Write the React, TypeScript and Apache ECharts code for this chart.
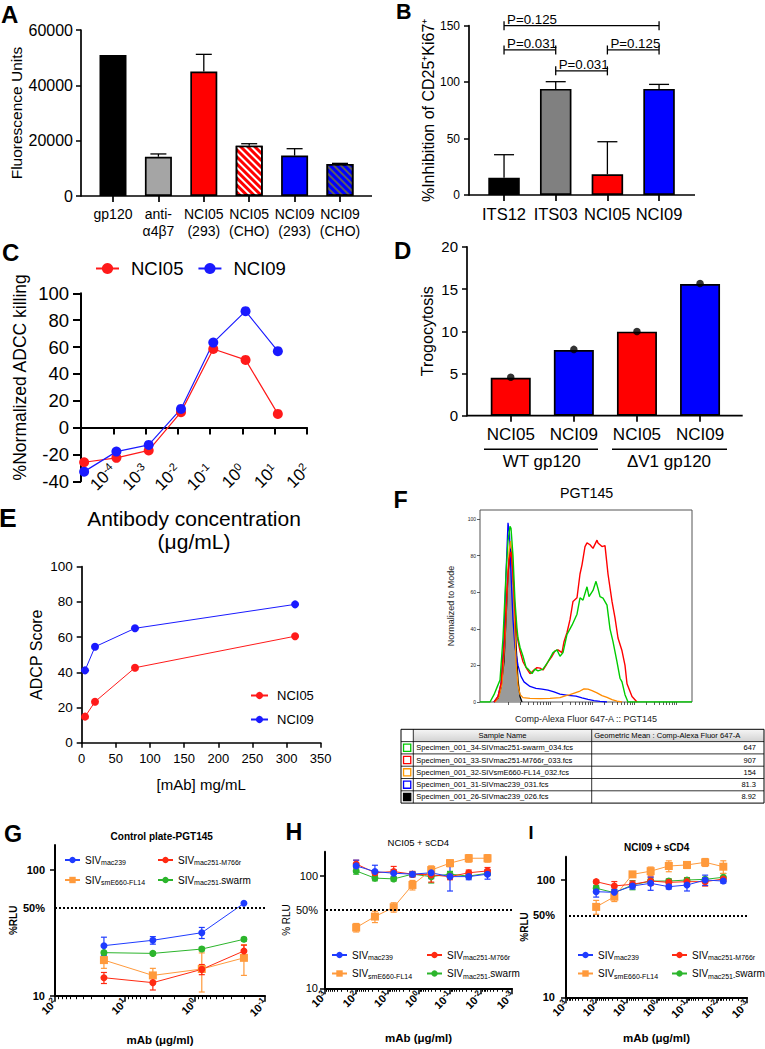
import React, { useEffect, useRef } from "react";
import * as echarts from "echarts";

const FONT = "'Liberation Sans', Arial, Helvetica, sans-serif";
const K = "#000000";

// ---------- Panel A ----------
const catsA = ["gp120", "anti-\nα4β7", "NCI05\n(293)", "NCI05\n(CHO)", "NCI09\n(293)", "NCI09\n(CHO)"];
const valsA = [51000, 14200, 45000, 18200, 14600, 11600];
const errTopA: (number | null)[] = [null, 15200, 51200, 18900, 17100, 11800];
const colorsA = ["#000000", "#a5a5a5", "#ff0000", "#ff0000", "#0000ff", "#0000ff"];
const hatchA: (string | null)[] = [null, null, null, "#ffffff", null, "#5e5e5e"];

// ---------- Panel B ----------
const catsB = ["ITS12", "ITS03", "NCI05", "NCI09"];
const valsB = [15.3, 94, 18.3, 94];
const errTopB = [35.7, 100.4, 47.2, 98];
const colorsB = ["#000000", "#808080", "#ff0000", "#0000ff"];
const pLabelsB = ["P=0.125", "P=0.031", "P=0.125", "P=0.031"];
const pFromB = [0, 0, 2, 1];
const pToB = [3, 1, 3, 2];
const pLevelB = [150, 128.5, 128.5, 110];

// ---------- Panel C ----------
const concC = [0.0000125, 0.000125, 0.00125, 0.0125, 0.125, 1.25, 12.5];
const nci05C = [-25.8, -22.5, -17, 11.5, 58.5, 50.4, 10.2];
const nci09C = [-32.8, -17.9, -12.9, 13.9, 63.3, 86.7, 56.9];
const decadesC = [0.0001, 0.001, 0.01, 0.1, 1, 10, 100];

// ---------- Panel D ----------
const catsD = ["NCI05", "NCI09", "NCI05", "NCI09"];
const valsD = [4.5, 7.78, 9.95, 15.6];
const dotsD = [4.55, 7.85, 9.98, 15.65];
const colorsD = ["#ff0000", "#0000ff", "#ff0000", "#0000ff"];
const groupsD = ["WT gp120", "ΔV1 gp120"];

// ---------- Panel E ----------
const concE = [4.88, 19.5, 78.1, 312.5];
const nci05E = [14.8, 23.3, 42.6, 60.5];
const nci09E = [41.1, 54.5, 65, 78.6];

// ---------- Panel F (histogram traces: [channel, % of mode]) ----------
const fBlack = [[14, 0], [18, 2], [21, 8], [24, 22], [26, 45], [28, 70], [30, 82], [31, 84], [32, 80], [34, 60], [36, 32], [38, 12], [40, 3], [42, 0]];
const fBlue = [[14, 0], [18, 3], [21, 10], [24, 35], [26, 70], [28, 98], [29.5, 92], [31, 70], [33, 45], [35, 30], [38, 20], [41, 14], [44, 11], [50, 8.5], [56, 7.5], [62, 7], [68, 6.5], [74, 5.5], [80, 4.3], [88, 3.6], [96, 3.2], [102, 2.2], [108, 1.4], [114, 0.8], [120, 0.3], [127, 0]];
const fOrange = [[15, 0], [19, 3], [22, 10], [25, 35], [27, 60], [29, 82], [30.5, 88], [32, 82], [34, 55], [36, 22], [38, 9], [40, 4.2], [43, 2.4], [50, 2], [60, 1.8], [70, 2], [80, 2.4], [86, 3.5], [90, 4], [95, 5], [100, 6], [104, 7.2], [108, 7], [112, 6.2], [117, 5], [122, 3.5], [127, 2.5], [132, 1.3], [137, 0.5], [142, 0]];
const fRed = [[14, 0], [18, 3], [21, 10], [24, 30], [27, 62], [29, 78], [31, 82], [33, 70], [35, 50], [37, 36], [40, 28], [43, 22], [47, 18], [50, 15.5], [53, 17], [57, 18.8], [60, 18.5], [63, 17.5], [66, 20], [68, 22], [72, 25], [75, 28], [78, 28.5], [82, 27], [84, 33], [87, 38], [90, 45], [93, 55], [97, 57], [100, 70], [102, 75], [105, 85], [107, 87], [110, 86], [113, 84], [117, 88.5], [118, 87], [122, 85], [125, 85.5], [128, 70], [132, 55], [135, 46], [138, 35], [142, 28], [145, 20], [147, 10], [152, 3], [157, 0]];
const fGreen = [[0, 0], [10, 0], [14, 4], [17, 8], [20, 12], [23, 35], [26, 70], [28, 88], [30, 96], [31, 95], [33, 80], [35, 55], [37, 40], [38, 35], [40, 30], [43, 25], [46, 19], [48, 18], [52, 15.5], [55, 18], [58, 17], [63, 18], [68, 22], [73, 27], [77, 28.5], [80, 25], [83, 27], [87, 37], [92, 42], [97, 48], [100, 57], [103, 55.7], [107, 63], [109, 57.6], [113, 61], [116, 66], [118, 62], [120, 57.6], [123, 56.8], [127, 53], [130, 40], [133, 33], [137, 22], [140, 13], [142, 11], [145, 4], [148, 0], [212, 0]];
const sampleNames = [
  "Specimen_001_34-SIVmac251-swarm_034.fcs",
  "Specimen_001_33-SIVmac251-M766r_033.fcs",
  "Specimen_001_32-SIVsmE660-FL14_032.fcs",
  "Specimen_001_31-SIVmac239_031.fcs",
  "Specimen_001_26-SIVmac239_026.fcs",
];
const geoMeans = ["647", "907", "154", "81.3", "8.92"];
const sampleColors = ["#00c800", "#ff0000", "#ff9900", "#0000ff", "#000000"];
const sampleFilled = [false, false, false, false, true];

// ---------- Panels G, H, I ----------
const virusNames = ["SIVmac239", "SIVmac251-M766r", "SIVsmE660-FL14", "SIVmac251-swarm"];
const virusLabels = ["SIV{s|mac239}", "SIV{s|mac251-M766r}", "SIV{s|smE660-FL14}", "SIV{s|mac251-}swarm"];
const virusColors = ["#1f3cff", "#ff2a12", "#ff9a3c", "#2cb52c"];
const virusSymbols = ["circle", "circle", "rect", "circle"];

const concG = [20, 4, 0.8, 0.2];
const gMac239 = [25, 27.6, 31.7, 54.3];
const gMac239Sd = [4.2, 1.9, 3.2, 0];
const gM766r = [13.9, 12.7, 16.2, 22.7];
const gM766rSd = [1.4, 1.6, 1.5, 2.5];
const gFL14 = [19.2, 14.5, 16.3, 20];
const gFL14Sd = [2.7, 2, 5.6, 5.5];
const gSwarm = [22, 21.7, 23.5, 28.1];
const gSwarmSd = [0.5, 0.5, 0.8, 1];

const concHI = [100, 25, 6.25, 1.5625, 0.390625, 0.09765625, 0.0244140625, 0.006103515625];
const hMac239 = [122, 108.6, 105, 103, 106, 98, 98, 103];
const hMac239Sd = [15, 15, 8, 5, 12, 25, 6, 10];
const hM766r = [127, 106, 108.6, 103, 101.5, 98, 106, 110];
const hM766rSd = [10, 5, 12, 6, 14, 6, 6, 8];
const hFL14 = [34.6, 43.3, 52.4, 82.6, 112, 129, 142.6, 142.6];
const hFL14Sd = [3, 5, 5, 8, 10, 9, 11, 11];
const hSwarm = [110, 95, 93.5, 103, 98, 103, 99, 105];
const hSwarmSd = [7, 5, 4, 4, 12, 6, 4, 5];

const iMac239 = [79.5, 78.5, 89, 93.7, 87.7, 90.6, 100, 98];
const iMac239Sd = [8, 5, 5, 12, 4, 10, 10, 4];
const iM766r = [96.8, 89, 91.9, 98, 95.5, 96.8, 96.8, 102];
const iM766rSd = [3, 8, 6, 8, 6, 8, 8, 5];
const iFL14 = [59, 72, 111.7, 119, 131.6, 134.4, 141.5, 129.8];
const iFL14Sd = [8, 6.5, 5, 10, 14, 9, 11, 16];
const iSwarm = [85, 78, 90.6, 98, 98, 100, 101.3, 105.5];
const iSwarmSd = [5, 5, 8, 4, 4, 4, 4, 8];

const decadesG = [100, 10, 1, 0.1];
const decadesHI = [1000, 100, 10, 1, 0.1, 0.01, 0.001];
const rluLabels = [10, 50, 100];
const rluTicks = [10, 100];

// ---------- helpers ----------
function minorLog(loExp: number, hiExp: number) {
  const out: number[] = [];
  for (let e = loExp; e < hiExp; e++) for (let m = 2; m <= 9; m++) out.push(m * Math.pow(10, e));
  return out;
}
function supLabel(v: number) {
  const e = Math.round(Math.log10(v));
  return "10{sup|" + (e < 0 ? "-" + Math.abs(e) : String(e)) + "}";
}
const lineS = (w = 1.7) => ({ color: K, width: w });

function barErr(capHalf: number) {
  return (params: any, api: any) => {
    const i = api.value(0);
    const base = api.coord([i, api.value(1)]);
    const top = api.coord([i, api.value(2)]);
    const st = { stroke: K, lineWidth: 1.3 };
    return {
      type: "group",
      children: [
        { type: "line", shape: { x1: base[0], y1: base[1], x2: top[0], y2: top[1] }, style: st },
        { type: "line", shape: { x1: top[0] - capHalf, y1: top[1], x2: top[0] + capHalf, y2: top[1] }, style: st },
      ],
    };
  };
}
function rangeErr(color: string) {
  return (params: any, api: any) => {
    const x = api.value(0);
    const lo = api.value(2);
    const hi = api.value(3);
    if (!(hi > lo)) return null;
    const a = api.coord([x, hi]);
    const b = api.coord([x, lo]);
    const st = { stroke: color, lineWidth: 1.2 };
    return {
      type: "group",
      children: [
        { type: "line", shape: { x1: a[0], y1: a[1], x2: b[0], y2: b[1] }, style: st },
        { type: "line", shape: { x1: a[0] - 3, y1: a[1], x2: a[0] + 3, y2: a[1] }, style: st },
        { type: "line", shape: { x1: b[0] - 3, y1: b[1], x2: b[0] + 3, y2: b[1] }, style: st },
      ],
    };
  };
}
function rluSeries(xIdx: number, yIdx: number, conc: number[], vals: number[][], sds: number[][]) {
  const out: any[] = [];
  [3, 2, 1, 0].forEach((k, n) => {
    out.push({
      type: "custom", xAxisIndex: xIdx, yAxisIndex: yIdx, z: 2, silent: true,
      renderItem: rangeErr(virusColors[k]), encode: { x: 0, y: 1 },
      data: conc.map((c, i) => [c, vals[k][i], vals[k][i] - sds[k][i], vals[k][i] + sds[k][i]]),
    });
    const s: any = {
      type: "line", name: virusNames[k], xAxisIndex: xIdx, yAxisIndex: yIdx, z: 3,
      data: conc.map((c, i) => [c, vals[k][i]]),
      symbol: virusSymbols[k], symbolSize: k === 2 ? 8 : 7,
      lineStyle: { color: virusColors[k], width: 1 }, itemStyle: { color: virusColors[k] },
    };
    if (n === 0) {
      s.markLine = {
        silent: true, symbol: ["none", "none"], label: { show: false },
        lineStyle: { type: [2, 2], color: K, width: 2 }, data: [{ yAxis: 50 }],
      };
    }
    out.push(s);
  });
  return out;
}

function rluX(grid: number, min: number, max: number, decades: number[], loExp: number, hiExp: number, nameGap: number) {
  return [
    {
      gridIndex: grid, type: "log", inverse: true, min, max, position: "bottom",
      axisLine: { show: true, onZero: false, lineStyle: lineS(2) },
      axisTick: { show: true, customValues: decades, length: 6, lineStyle: lineS(1.5) },
      axisLabel: {
        customValues: decades, rotate: 45, fontSize: 11, fontWeight: "bold", color: K, margin: 5,
        formatter: supLabel, rich: { sup: { fontSize: 8, fontWeight: "bold", color: K, padding: [0, 0, 5, 0] } },
      },
      splitLine: { show: false }, minorTick: { show: false },
      name: "mAb (μg/ml)", nameLocation: "middle", nameGap,
      nameTextStyle: { fontSize: 11.5, fontWeight: "bold", color: K },
    },
    {
      gridIndex: grid, type: "log", inverse: true, min, max, position: "bottom",
      axisLine: { show: false, onZero: false },
      axisTick: { show: true, customValues: minorLog(loExp, hiExp), length: 3.5, lineStyle: lineS(1) },
      axisLabel: { show: false }, splitLine: { show: false },
    },
  ];
}
function rluY(grid: number, max: number, nameGap: number, margin: number, bold: boolean) {
  return {
    gridIndex: grid, type: "log", min: 10, max, position: "left",
    axisLine: { show: true, onZero: false, lineStyle: lineS(2) },
    axisTick: { show: true, customValues: rluTicks, length: 5, lineStyle: lineS(1.5) },
    axisLabel: {
      customValues: rluLabels, fontSize: 11, fontWeight: bold ? "bold" : "normal", color: K, margin,
      formatter: (v: number) => (Math.abs(v - 50) < 1 ? "50%" : String(Math.round(v))),
    },
    splitLine: { show: false },
    name: bold ? "%RLU" : "% RLU", nameLocation: "middle", nameGap,
    nameTextStyle: { fontSize: 10, fontWeight: bold ? "bold" : "normal", color: K },
  };
}
function rluLegends(leftA: number, leftB: number, top: number, gap: number) {
  const mk = (left: number, names: string[]) => ({
    data: names, left, top, orient: "vertical", itemWidth: 15, itemHeight: 8, itemGap: gap, padding: 0,
    formatter: (n: string) => virusLabels[virusNames.indexOf(n)],
    textStyle: { fontSize: 10, color: K, rich: { s: { fontSize: 7, color: K, padding: [5, 0, 0, 0] } } },
  });
  return [mk(leftA, [virusNames[0], virusNames[2]]), mk(leftB, [virusNames[1], virusNames[3]])];
}

function txt(text: string, x: number, y: number, size: number, opts: any = {}) {
  return {
    type: "text", x, y, silent: true,
    style: {
      text, fill: K, fontFamily: FONT, fontSize: size, fontWeight: opts.bold ? "bold" : "normal",
      align: opts.align || "left", verticalAlign: opts.va || "top",
    },
  };
}
function ln(x1: number, y1: number, x2: number, y2: number, w = 1.7, color = K) {
  return { type: "line", silent: true, shape: { x1, y1, x2, y2 }, style: { stroke: color, lineWidth: w } };
}

function buildOption() {
  const grids = [
    { left: 90.3, top: 30, width: 272.4, height: 166 },
    { left: 478.2, top: 25.7, width: 206.7, height: 169.3 },
    { left: 81, top: 293.3, width: 226, height: 188 },
    { left: 479.2, top: 246.8, width: 252.4, height: 168.9 },
    { left: 81.7, top: 566.7, width: 239, height: 176 },
    { left: 480, top: 510, width: 212, height: 192, show: true, borderColor: "#555", borderWidth: 1 },
    { left: 55, top: 845, width: 210, height: 150.7 },
    { left: 325, top: 851.7, width: 187, height: 136.6 },
    { left: 566, top: 856.7, width: 181, height: 140.6 },
  ].map((g) => ({ containLabel: false, outerBoundsMode: "none", ...g }));

  const fMinor: number[] = [];
  for (let d = 0; d < 5; d++) {
    for (let m = 1; m <= 9; m++) {
      const v = 28 + d * 42 + Math.log10(m) * 42;
      if (v > 8 && v < 205) fMinor.push(v);
    }
  }

  const xAxes: any[] = [
    // 0 A
    {
      gridIndex: 0, type: "category", data: catsA, position: "bottom",
      axisLine: { show: false }, axisTick: { show: true, alignWithLabel: true, length: 6, lineStyle: lineS() },
      axisLabel: { interval: 0, fontSize: 14, color: K, margin: 9, lineHeight: 17 },
    },
    // 1 B
    {
      gridIndex: 1, type: "category", data: catsB, position: "bottom",
      axisLine: { show: false }, axisTick: { show: true, alignWithLabel: true, length: 6, lineStyle: lineS() },
      axisLabel: { interval: 0, fontSize: 16.5, color: K, margin: 10 },
    },
    // 2 C (line on zero)
    {
      gridIndex: 2, type: "log", min: 0.00001, max: 100, position: "bottom",
      axisLine: { show: true, onZero: true, lineStyle: lineS(2) },
      axisTick: { show: true, customValues: decadesC, length: 7, lineStyle: lineS(2) },
      axisLabel: { show: false }, splitLine: { show: false },
    },
    // 3 C (labels at bottom)
    {
      gridIndex: 2, type: "log", min: 0.00001, max: 100, position: "bottom",
      axisLine: { show: false, onZero: false }, axisTick: { show: false },
      axisLabel: {
        customValues: decadesC, rotate: 45, fontSize: 17, color: K, margin: -14,
        formatter: supLabel, rich: { sup: { fontSize: 11, color: K, padding: [0, 0, 8, 0] } },
      },
      splitLine: { show: false },
      name: "Antibody concentration\n(μg/mL)", nameLocation: "middle", nameGap: 26,
      nameTextStyle: { fontSize: 21, color: K, lineHeight: 23 },
    },
    // 4 D
    {
      gridIndex: 3, type: "category", data: catsD, position: "bottom",
      axisLine: { show: false }, axisTick: { show: true, alignWithLabel: true, length: 6, lineStyle: lineS() },
      axisLabel: { interval: 0, fontSize: 17, color: K, margin: 10 },
    },
    // 5 E
    {
      gridIndex: 4, type: "value", min: 0, max: 350, interval: 50, position: "bottom",
      axisLine: { show: true, onZero: false, lineStyle: lineS() },
      axisTick: { show: true, length: 5, lineStyle: lineS(1.5) },
      axisLabel: { fontSize: 13, color: K, margin: 9 }, splitLine: { show: false },
      name: "[mAb] mg/mL", nameLocation: "middle", nameGap: 34, nameTextStyle: { fontSize: 15, color: K },
    },
    // 6 F
    {
      gridIndex: 5, type: "value", min: 0, max: 212, position: "bottom",
      axisLine: { show: false, onZero: false },
      axisTick: { show: true, customValues: fMinor, length: 3, lineStyle: { color: "#333", width: 0.8 } },
      axisLabel: { show: false }, splitLine: { show: false },
      name: "Comp-Alexa Fluor 647-A :: PGT145", nameLocation: "middle", nameGap: 12,
      nameTextStyle: { fontSize: 9, color: "#222" },
    },
    // 7,8 G ; 9,10 H ; 11,12 I
    ...rluX(6, 0.1, 100, decadesG, -1, 2, 38),
    ...rluX(7, 0.001, 1000, decadesHI, -3, 3, 44),
    ...rluX(8, 0.001, 1000, decadesHI, -3, 3, 35),
  ];

  const valueY = (grid: number, min: number, max: number, interval: number, extra: any) => ({
    gridIndex: grid, type: "value", min, max, interval, position: "left",
    axisLine: { show: true, onZero: false, lineStyle: lineS() },
    axisTick: { show: true, length: 5, lineStyle: lineS(1.5) },
    splitLine: { show: false }, nameLocation: "middle",
    ...extra,
  });

  const yAxes: any[] = [
    valueY(0, 0, 60000, 20000, {
      offset: 9.3, axisLabel: { fontSize: 16, color: K, margin: 8, formatter: (v: number) => String(v) },
      name: "Fluorescence Units", nameGap: 55, nameTextStyle: { fontSize: 15.5, color: K },
    }),
    valueY(1, 0, 150, 50, {
      offset: 9.2, axisLabel: { fontSize: 12, color: K, margin: 9 },
      name: "%Inhibition of CD25⁺Ki67⁺", nameGap: 33, nameTextStyle: { fontSize: 16, color: K },
    }),
    valueY(2, -40, 100, 20, {
      axisTick: { show: true, length: 8, lineStyle: lineS(2) },
      axisLine: { show: true, onZero: false, lineStyle: lineS(2) },
      axisLabel: { fontSize: 18.5, color: K, margin: 12 },
      name: "%Normalized ADCC killing", nameGap: 52,
      nameTextStyle: { fontSize: 17.5, color: K, padding: [0, 0, 0, 20] },
    }),
    valueY(3, 0, 20, 5, {
      offset: 12.2, axisLabel: { fontSize: 15, color: K, margin: 9 },
      name: "Trogocytosis", nameGap: 32, nameTextStyle: { fontSize: 16, color: K },
    }),
    valueY(4, 0, 100, 20, {
      axisLabel: { fontSize: 13.5, color: K, margin: 9 },
      name: "ADCP Score", nameGap: 37, nameTextStyle: { fontSize: 16, color: K },
    }),
    {
      gridIndex: 5, type: "value", min: 0, max: 105, position: "left",
      axisLine: { show: false, onZero: false },
      axisTick: { show: true, customValues: [0, 20, 40, 60, 80, 100], length: 3, lineStyle: { color: "#333", width: 0.8 } },
      axisLabel: { customValues: [0, 20, 40, 60, 80, 100], fontSize: 5, color: "#222", margin: 4 },
      splitLine: { show: false },
      name: "Normalized to Mode", nameLocation: "middle", nameGap: 25, nameTextStyle: { fontSize: 9, color: "#222" },
    },
    rluY(6, 158, 37, 10, true),
    rluY(7, 163, 33.5, 7, false),
    rluY(8, 158, 33, 11, true),
  ];

  const legends: any[] = [
    {
      data: ["NCI05", "NCI09"], left: 95, top: 259, orient: "horizontal", itemWidth: 23, itemHeight: 14,
      itemGap: 14, padding: 0, textStyle: { fontSize: 18.5, color: K, padding: [0, 0, 0, 7] },
    },
    {
      data: ["NCI05", "NCI09"], left: 250, top: 689, orient: "vertical", itemWidth: 17, itemHeight: 9,
      itemGap: 11, padding: 0, textStyle: { fontSize: 13, color: K, padding: [0, 0, 0, 4] },
    },
    ...rluLegends(64, 157, 855, 9),
    ...rluLegends(331, 426, 950, 7.5),
    ...rluLegends(577, 671, 950, 7.5),
  ];

  const series: any[] = [
    // A
    {
      type: "bar", xAxisIndex: 0, yAxisIndex: 0, barWidth: 27, z: 2,
      data: valsA.map((v, i) => ({
        value: v,
        itemStyle: {
          color: colorsA[i], borderColor: K, borderWidth: 1.7,
          decal: hatchA[i]
            ? { symbol: "rect", symbolSize: 1, color: hatchA[i], dashArrayX: [1, 0], dashArrayY: [2, 3], rotation: Math.PI / 4 }
            : undefined,
        },
      })),
    },
    {
      type: "custom", xAxisIndex: 0, yAxisIndex: 0, z: 3, silent: true, renderItem: barErr(8), encode: { x: 0, y: 1 },
      data: errTopA.map((t, i) => (t == null ? null : [i, valsA[i], t])).filter((d) => d !== null),
    },
    // B
    {
      type: "bar", xAxisIndex: 1, yAxisIndex: 1, barWidth: 31.5, z: 2,
      data: valsB.map((v, i) => ({ value: v, itemStyle: { color: colorsB[i], borderColor: K, borderWidth: 1.7 } })),
    },
    {
      type: "custom", xAxisIndex: 1, yAxisIndex: 1, z: 3, silent: true, renderItem: barErr(10), encode: { x: 0, y: 1 },
      data: errTopB.map((t, i) => [i, valsB[i], t]),
    },
    {
      type: "custom", xAxisIndex: 1, yAxisIndex: 1, z: 3, silent: true, encode: { x: 0, y: 2 },
      data: pLabelsB.map((_, i) => [pFromB[i], pToB[i], pLevelB[i]]),
      renderItem: (params: any, api: any) => {
        const i = params.dataIndex;
        const a = api.coord([api.value(0), api.value(2)]);
        const b = api.coord([api.value(1), api.value(2)]);
        const st = { stroke: K, lineWidth: 1.3 };
        return {
          type: "group",
          children: [
            { type: "line", shape: { x1: a[0], y1: a[1], x2: b[0], y2: b[1] }, style: st },
            { type: "line", shape: { x1: a[0], y1: a[1] - 4.5, x2: a[0], y2: a[1] + 4.5 }, style: st },
            { type: "line", shape: { x1: b[0], y1: b[1] - 4.5, x2: b[0], y2: b[1] + 4.5 }, style: st },
            {
              type: "text", x: a[0] + 3, y: a[1] + 0.5,
              style: { text: pLabelsB[i], fill: K, fontFamily: FONT, fontSize: 13.3, align: "left", verticalAlign: "bottom" },
            },
          ],
        };
      },
    },
    // C
    {
      type: "line", name: "NCI05", xAxisIndex: 2, yAxisIndex: 2, z: 3,
      data: concC.map((c, i) => [c, nci05C[i]]), symbol: "circle", symbolSize: 10,
      lineStyle: { color: "#ff1a1a", width: 1.2 }, itemStyle: { color: "#ff1a1a" },
    },
    {
      type: "line", name: "NCI09", xAxisIndex: 2, yAxisIndex: 2, z: 3,
      data: concC.map((c, i) => [c, nci09C[i]]), symbol: "circle", symbolSize: 10,
      lineStyle: { color: "#1a1aff", width: 1.2 }, itemStyle: { color: "#1a1aff" },
    },
    // D
    {
      type: "bar", xAxisIndex: 4, yAxisIndex: 3, barWidth: 40, z: 2,
      data: valsD.map((v, i) => ({ value: v, itemStyle: { color: colorsD[i], borderColor: K, borderWidth: 1.7 } })),
    },
    {
      type: "scatter", xAxisIndex: 4, yAxisIndex: 3, z: 4, symbol: "circle", symbolSize: 7.5,
      itemStyle: { color: K }, data: dotsD,
    },
    // E
    {
      type: "line", name: "NCI05", xAxisIndex: 5, yAxisIndex: 4, z: 3,
      data: concE.map((c, i) => [c, nci05E[i]]), symbol: "circle", symbolSize: 8,
      lineStyle: { color: "#ff1a1a", width: 1 }, itemStyle: { color: "#ff1a1a" },
    },
    {
      type: "line", name: "NCI09", xAxisIndex: 5, yAxisIndex: 4, z: 3,
      data: concE.map((c, i) => [c, nci09E[i]]), symbol: "circle", symbolSize: 8,
      lineStyle: { color: "#1a1aff", width: 1 }, itemStyle: { color: "#1a1aff" },
    },
    // F
    {
      type: "line", xAxisIndex: 6, yAxisIndex: 5, data: fBlack, symbol: "none", z: 2,
      lineStyle: { color: K, width: 1.3 }, areaStyle: { color: "#9a9a9a", opacity: 1 },
    },
    { type: "line", xAxisIndex: 6, yAxisIndex: 5, data: fBlue, symbol: "none", z: 3, lineStyle: { color: "#0000ff", width: 1.3 } },
    { type: "line", xAxisIndex: 6, yAxisIndex: 5, data: fOrange, symbol: "none", z: 3, lineStyle: { color: "#ff8c00", width: 1.3 } },
    { type: "line", xAxisIndex: 6, yAxisIndex: 5, data: fRed, symbol: "none", z: 3, lineStyle: { color: "#ff0000", width: 1.4 } },
    { type: "line", xAxisIndex: 6, yAxisIndex: 5, data: fGreen, symbol: "none", z: 3, lineStyle: { color: "#00cc00", width: 1.4 } },
    // G, H, I
    ...rluSeries(7, 6, concG, [gMac239, gM766r, gFL14, gSwarm], [gMac239Sd, gM766rSd, gFL14Sd, gSwarmSd]),
    ...rluSeries(9, 7, concHI, [hMac239, hM766r, hFL14, hSwarm], [hMac239Sd, hM766rSd, hFL14Sd, hSwarmSd]),
    ...rluSeries(11, 8, concHI, [iMac239, iM766r, iFL14, iSwarm], [iMac239Sd, iM766rSd, iFL14Sd, iSwarmSd]),
  ];

  // ---- graphic decorations ----
  const g: any[] = [];
  const letters: [string, number, number, number][] = [
    ["A", 1, 2, 24], ["B", 396, 0.5, 21.5], ["C", 2, 240, 24], ["D", 394, 238.5, 24], ["E", -1, 504.5, 26.5],
    ["F", 393.5, 488.5, 23.3], ["G", 4, 822, 23.3], ["H", 285.5, 820.3, 23.3], ["I", 528.5, 824, 18],
  ];
  letters.forEach(([t, x, y, s]) => g.push(txt(t, x, y, s, { bold: true })));
  // axis baselines of the bar panels
  g.push(ln(81, 196, 372, 196));
  g.push(ln(469, 195, 695, 195));
  g.push(ln(467, 415.7, 742.7, 415.7));
  // D group labels
  g.push(ln(484, 449.3, 598, 449.3, 1.6));
  g.push(ln(612, 449.3, 727, 449.3, 1.6));
  g.push(txt(groupsD[0], 541.7, 461.7, 17, { align: "center", va: "middle" }));
  g.push(txt(groupsD[1], 669, 461.7, 17, { align: "center", va: "middle" }));
  // titles
  g.push(txt("PGT145", 586.7, 493, 14.3, { align: "center", va: "middle" }));
  g.push(txt("Control plate-PGT145", 161.7, 836, 10, { align: "center", va: "middle", bold: true }));
  g.push(txt("NCI05 + sCD4", 418.3, 842.7, 9.5, { align: "center", va: "middle" }));
  g.push(txt("NCI09 + sCD4", 656.7, 847.3, 10, { align: "center", va: "middle", bold: true }));
  // F table
  const tL = 401, tR = 764, tT = 729.3, rH = 12.3, c1 = 413.3, c2 = 591.7;
  const tB = tT + rH * (sampleNames.length + 1);
  g.push({
    type: "rect", silent: true, shape: { x: c1, y: tT, width: tR - c1, height: rH },
    style: {
      fill: { type: "linear", x: 0, y: 0, x2: 0, y2: 1, colorStops: [{ offset: 0, color: "#f6f6f6" }, { offset: 1, color: "#d2d2d2" }] },
    },
  });
  g.push({ type: "rect", silent: true, shape: { x: tL, y: tT, width: tR - tL, height: tB - tT }, style: { fill: "none", stroke: K, lineWidth: 1 } });
  for (let r = 1; r <= sampleNames.length; r++) g.push(ln(tL, tT + r * rH, tR, tT + r * rH, 0.8));
  g.push(ln(c1, tT, c1, tB, 0.8));
  g.push(ln(c2, tT, c2, tB, 0.8));
  g.push(txt("Sample Name", (c1 + c2) / 2, tT + rH / 2, 7.6, { align: "center", va: "middle" }));
  g.push(txt("Geometric Mean : Comp-Alexa Fluor 647-A", c2 + 2.5, tT + rH / 2, 7.6, { va: "middle" }));
  sampleNames.forEach((nm, i) => {
    const cy = tT + rH * (i + 1.5);
    g.push({
      type: "rect", silent: true, shape: { x: (tL + c1) / 2 - 3.6, y: cy - 3.6, width: 7.2, height: 7.2 },
      style: { fill: sampleFilled[i] ? sampleColors[i] : "#ffffff", stroke: sampleColors[i], lineWidth: 1.3 },
    });
    g.push(txt(nm, c1 + 3, cy, 7.5, { va: "middle" }));
    g.push(txt(geoMeans[i], 756, cy, 7.5, { va: "middle", align: "right" }));
  });

  return {
    animation: false,
    backgroundColor: "#ffffff",
    textStyle: { fontFamily: FONT, color: K },
    grid: grids,
    xAxis: xAxes,
    yAxis: yAxes,
    legend: legends,
    series,
    graphic: g,
  };
}

export default function App() {
  const ref = useRef<HTMLDivElement>(null);
  useEffect(() => {
    if (!ref.current) return;
    const chart = echarts.init(ref.current, null, { renderer: "svg" });
    chart.setOption(buildOption());
    return () => chart.dispose();
  }, []);
  return (
    <div
      ref={ref}
      style={{ position: "absolute", left: 0, top: 0, width: 765, height: 1049, background: "#ffffff" }}
    />
  );
}
